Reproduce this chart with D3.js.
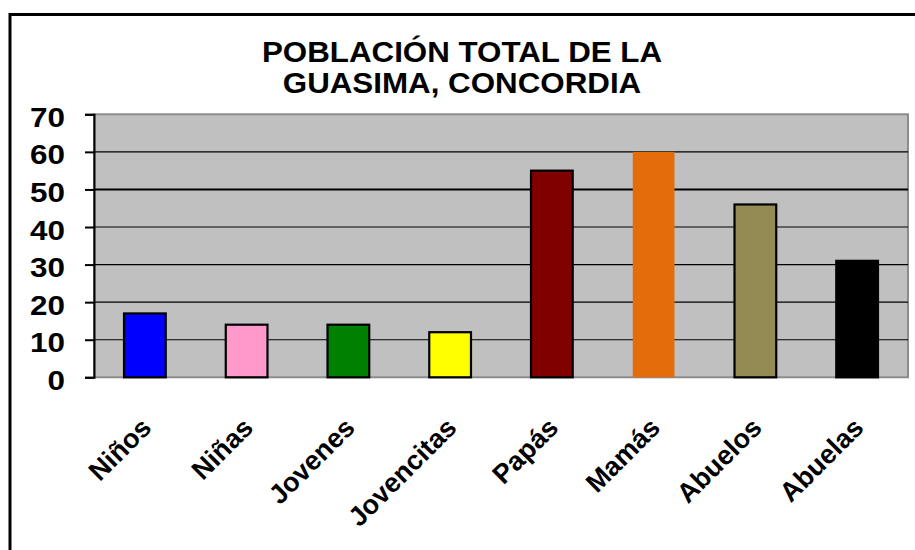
<!DOCTYPE html>
<html>
<head>
<meta charset="utf-8">
<script src="https://cdn.jsdelivr.net/npm/d3@7"></script>
<style>
  body { margin: 0; background: #fff; }
  text { font-family: "Liberation Sans", Arial, sans-serif; font-weight: bold; }
</style>
</head>
<body>
<div id="chart"></div>
<script>
// data
const categories = ['Niños', 'Niñas', 'Jovenes', 'Jovencitas', 'Papás', 'Mamás', 'Abuelos', 'Abuelas'];
const values = [17, 14, 14, 12, 55, 60, 46, 31];
const barColors = ['#0000ff', '#ff99cc', '#008000', '#ffff00', '#800000', '#e46c0a', '#948a54', '#000000'];
const yTicks = [0, 10, 20, 30, 40, 50, 60, 70];
const titleLines = ['POBLACIÓN TOTAL DE LA', 'GUASIMA, CONCORDIA'];

const w = 915, h = 550;
const plot = d3.select('#chart').append('svg')
	.attr('width', w)
	.attr('height', h);

//outer chart frame (runs off the right and bottom)
plot.append('rect')
	.attr('x', 10).attr('y', 14.5)
	.attr('width', 1000).attr('height', 1000)
	.style('fill', '#fff')
	.style('stroke', '#000')
	.style('stroke-width', 3);

const plotLeft = 94, plotRight = 908, plotTop = 114.3, plotBottom = 377.3;

const x = d3.scaleBand()
	.domain(categories)
	.range([plotLeft, plotRight])
	.paddingInner(0.59)
	.paddingOuter(0.295);

const y = d3.scaleLinear()
	.domain([0, 70])
	.range([plotBottom, plotTop]);

//plot area
plot.append('rect')
	.attr('x', plotLeft).attr('y', plotTop)
	.attr('width', plotRight - plotLeft).attr('height', plotBottom - plotTop)
	.style('fill', '#c0c0c0')
	.style('stroke', '#8c8c8c')
	.style('stroke-width', 2);

//gridlines
plot.append('g')
	.selectAll('line')
	.data(yTicks.filter(d => d > 0 && d < 70))
	.enter()
	.append('line')
	.attr('x1', plotLeft).attr('x2', plotRight)
	.attr('y1', d => y(d)).attr('y2', d => y(d))
	.style('stroke', '#000')
	.style('stroke-width', d => d === 50 ? 2 : 1.2);

//bars
plot.append('g')
	.selectAll('rect')
	.data(values)
	.enter()
	.append('rect')
	.attr('x', (d, i) => x(categories[i]))
	.attr('y', d => y(d))
	.attr('width', x.bandwidth())
	.attr('height', d => y(0) - y(d))
	.style('fill', (d, i) => barColors[i])
	.style('stroke', (d, i) => categories[i] === 'Mamás' ? 'none' : '#000')
	.style('stroke-width', 2.2);

//y axis
const yAxis = plot.append('g')
	.attr('transform', `translate(${plotLeft},0)`)
	.call(d3.axisLeft(y).tickValues(yTicks).tickSize(9).tickPadding(20));

yAxis.select('.domain').style('stroke', '#000').style('stroke-width', 2);
yAxis.selectAll('.tick line').style('stroke', '#000').style('stroke-width', 2);
yAxis.selectAll('.tick text')
	.attr('dy', 12)
	.style('font-size', '27px')
	.style('fill', '#000')
	.attr('textLength', d => String(d).length * 17.5)
	.attr('lengthAdjust', 'spacingAndGlyphs');

//x axis labels
const xAxis = plot.append('g')
	.attr('transform', `translate(0,${plotBottom})`)
	.call(d3.axisBottom(x).tickSize(0).tickPadding(0));

xAxis.select('.domain').remove();
xAxis.selectAll('.tick text')
	.attr('y', 0).attr('dy', 0)
	.attr('transform', 'translate(8,52) rotate(-45)')
	.style('text-anchor', 'end')
	.style('font-size', '27px')
	.style('fill', '#000');

//title - a bit wider than the plain font, like the original
plot.append('g')
	.selectAll('text')
	.data(titleLines)
	.enter()
	.append('text')
	.attr('x', 462)
	.attr('y', (d, i) => 61.5 + i * 31)
	.attr('text-anchor', 'middle')
	.style('font-size', '29px')
	.style('fill', '#000')
	.text(d => d)
	.each(function(){
		const len = this.getComputedTextLength();
		d3.select(this)
			.attr('textLength', len * 1.08)
			.attr('lengthAdjust', 'spacingAndGlyphs');
	});
</script>
</body>
</html>
